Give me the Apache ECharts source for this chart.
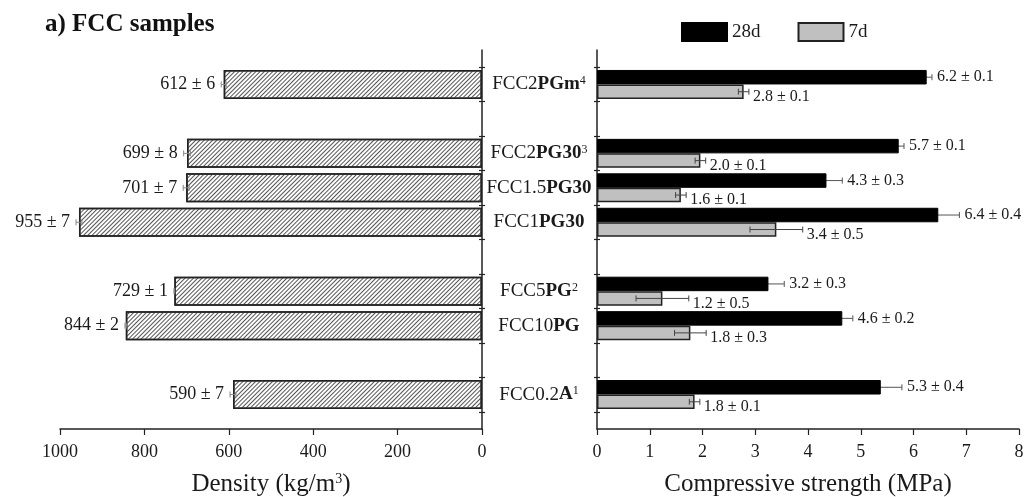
<!DOCTYPE html>
<html>
<head>
<meta charset="utf-8">
<title>FCC samples</title>
<script src="https://cdn.jsdelivr.net/npm/echarts@6/dist/echarts.min.js"></script>
<style>
  html, body { margin: 0; padding: 0; background: #fff; }
  #chart { width: 1024px; height: 497px; }
</style>
</head>
<body>
<div id="chart"></div>
<script>
// rows of the figure, top to bottom (blank rows separate the groups)
var yCategories = ['', 'FCC2PGm', '', 'FCC2PG30', 'FCC1.5PG30', 'FCC1PG30', '', 'FCC5PG', 'FCC10PG', '', 'FCC0.2A', ''];
var samples = ['FCC2PGm', 'FCC2PG30', 'FCC1.5PG30', 'FCC1PG30', 'FCC5PG', 'FCC10PG', 'FCC0.2A'];
var notes = ['4', '3', '', '', '2', '', '1'];

// density (kg/m3)
var density = [612, 699, 701, 955, 729, 844, 590];
var densitySd = [6, 8, 7, 7, 1, 2, 7];

// compressive strength (MPa)
var strength28 = [6.25, 5.72, 4.35, 6.47, 3.25, 4.65, 5.38];
var strength28Sd = [0.1, 0.1, 0.3, 0.4, 0.3, 0.2, 0.4];
var strength28Text = ['6.2 ± 0.1', '5.7 ± 0.1', '4.3 ± 0.3', '6.4 ± 0.4', '3.2 ± 0.3', '4.6 ± 0.2', '5.3 ± 0.4'];
var strength7 = [2.78, 1.96, 1.59, 3.40, 1.24, 1.77, 1.85];
var strength7Sd = [0.1, 0.1, 0.1, 0.5, 0.5, 0.3, 0.1];
var strength7Text = ['2.8 ± 0.1', '2.0 ± 0.1', '1.6 ± 0.1', '3.4 ± 0.5', '1.2 ± 0.5', '1.8 ± 0.3', '1.8 ± 0.1'];

var FONT = 'Liberation Serif';
var INK = '#1a1a1a';
var BAR_W = 14.5;

var tickRows = new Array(yCategories.length - 1).fill('');

function tickAxis(grid, pos, inside) {
    return {
        type: 'category', gridIndex: grid, position: pos, inverse: true,
        data: tickRows, boundaryGap: true,
        axisLine: { show: false },
        axisTick: { show: true, alignWithLabel: true, inside: inside, length: 3, lineStyle: { color: '#222', width: 1.2 } },
        axisLabel: { show: false },
        splitLine: { show: false }
    };
}

function sampleLabel(name) {
    if (!name) return '';
    var m = name.match(/^(FCC[\d.]+)(.+)$/);
    var note = notes[samples.indexOf(name)];
    return '{n|' + m[1] + '}{b|' + m[2] + '}' + (note ? '{s|' + note + '}' : '');
}

// error bar + value text, drawn from axis coordinates
function errorBars(offset, textDy, gap, color, fontSize, texts, leftSide) {
    return function (params, api) {
        var v = api.value(0), row = api.value(1), sd = api.value(2);
        var y = api.coord([v, row])[1] + offset;
        var xa = api.coord([v - sd, row])[0];
        var xb = api.coord([v + sd, row])[0];
        var cap = 3;
        return {
            type: 'group',
            children: [
                { type: 'line', shape: { x1: xa, y1: y, x2: xb, y2: y }, style: { stroke: color, lineWidth: 1 } },
                { type: 'line', shape: { x1: xa, y1: y - cap, x2: xa, y2: y + cap }, style: { stroke: color, lineWidth: 1 } },
                { type: 'line', shape: { x1: xb, y1: y - cap, x2: xb, y2: y + cap }, style: { stroke: color, lineWidth: 1 } },
                {
                    type: 'text',
                    x: leftSide ? xb - gap : xb + gap,
                    y: y + textDy,
                    style: {
                        text: texts[params.dataIndex],
                        fill: INK, font: fontSize + 'px "' + FONT + '"',
                        textAlign: leftSide ? 'right' : 'left', textVerticalAlign: 'middle'
                    }
                }
            ]
        };
    };
}

var densityText = density.map(function (d, i) { return d + ' ± ' + densitySd[i]; });

var option = {
    animation: false,
    backgroundColor: '#fff',
    textStyle: { fontFamily: FONT, color: INK },
    title: {
        text: 'a) FCC samples', left: 40, top: 7,
        textStyle: { fontFamily: FONT, fontWeight: 'bold', fontSize: 25, color: '#111' }
    },
    legend: {
        data: ['28d', '7d'], left: 681, top: 22, padding: 0,
        itemWidth: 45, itemHeight: 18, itemGap: 37, icon: 'rect',
        textStyle: { fontFamily: FONT, fontSize: 19, color: INK }
    },
    grid: [
        { left: 60, right: 542, top: 50, bottom: 68, outerBoundsMode: 'none' },
        { left: 597, right: 5, top: 50, bottom: 68, outerBoundsMode: 'none' }
    ],
    xAxis: [{
        type: 'value', gridIndex: 0, inverse: true, min: 0, max: 1000, interval: 200,
        name: '{a|Density (kg/m}{s|3}{a|)}', nameLocation: 'middle', nameGap: 43,
        nameTextStyle: {
            rich: {
                a: { fontFamily: FONT, fontSize: 25, color: INK },
                s: { fontFamily: FONT, fontSize: 14, lineHeight: 12, color: INK, verticalAlign: 'top' }
            }
        },
        axisLine: { show: true, onZero: false, lineStyle: { color: '#222', width: 1.5 } },
        axisTick: { show: true, length: 6, lineStyle: { color: '#222', width: 1.2 } },
        axisLabel: { fontFamily: FONT, fontSize: 18, color: INK, margin: 14, formatter: function (v) { return String(v); } },
        splitLine: { show: false }
    }, {
        type: 'value', gridIndex: 1, min: 0, max: 8, interval: 1,
        name: 'Compressive strength (MPa)', nameLocation: 'middle', nameGap: 43,
        nameTextStyle: { fontFamily: FONT, fontSize: 25, color: INK },
        axisLine: { show: true, onZero: false, lineStyle: { color: '#222', width: 1.5 } },
        axisTick: { show: true, length: 6, lineStyle: { color: '#222', width: 1.2 } },
        axisLabel: { fontFamily: FONT, fontSize: 18, color: INK, margin: 14 },
        splitLine: { show: false }
    }],
    yAxis: [{
        type: 'category', gridIndex: 0, position: 'right', inverse: true,
        data: yCategories, boundaryGap: false,
        axisLine: { show: true, onZero: false, lineStyle: { color: '#222', width: 1.5 } },
        axisTick: { show: false },
        axisLabel: { show: false },
        splitLine: { show: false }
    },
    tickAxis(0, 'right', false),
    tickAxis(0, 'right', true),
    {
        type: 'category', gridIndex: 1, position: 'left', inverse: true,
        data: yCategories, boundaryGap: false,
        axisLine: { show: true, onZero: false, lineStyle: { color: '#222', width: 1.5 } },
        axisTick: { show: false },
        axisLabel: {
            interval: 0, align: 'center', margin: 58,
            formatter: sampleLabel,
            rich: {
                n: { fontFamily: FONT, fontSize: 19, color: INK },
                b: { fontFamily: FONT, fontSize: 19, fontWeight: 'bold', color: INK },
                s: { fontFamily: FONT, fontSize: 12, lineHeight: 10, color: INK, verticalAlign: 'top' }
            }
        },
        splitLine: { show: false }
    },
    tickAxis(1, 'left', false),
    tickAxis(1, 'left', true)
    ],
    series: [{
        name: 'Density', type: 'bar', xAxisIndex: 0, yAxisIndex: 0,
        barWidth: 29,
        itemStyle: {
            color: '#fff', borderColor: '#222', borderWidth: 1.5,
            decal: {
                symbol: 'rect', symbolSize: 1, color: '#555',
                dashArrayX: [1, 0], dashArrayY: [1, 2], rotation: -Math.PI / 4
            }
        },
        data: samples.map(function (s, i) { return [density[i], s]; })
    }, {
        name: '28d', type: 'bar', xAxisIndex: 1, yAxisIndex: 3,
        barWidth: BAR_W, barGap: '0%',
        itemStyle: { color: '#000', borderColor: '#000', borderWidth: 1 },
        data: samples.map(function (s, i) { return [strength28[i], s]; })
    }, {
        name: '7d', type: 'bar', xAxisIndex: 1, yAxisIndex: 3,
        barWidth: BAR_W, barGap: '0%',
        itemStyle: { color: '#c0c0c0', borderColor: '#222', borderWidth: 1.5 },
        data: samples.map(function (s, i) { return [strength7[i], s]; })
    }, {
        type: 'custom', xAxisIndex: 0, yAxisIndex: 0, z: 5,
        encode: { x: 0, y: 1 },
        renderItem: errorBars(0, 0, 6, '#888', 18, densityText, true),
        data: samples.map(function (s, i) { return [density[i], s, densitySd[i]]; })
    }, {
        // drawn under the black bars, so only the outer half shows
        type: 'custom', xAxisIndex: 1, yAxisIndex: 3, z: 1,
        encode: { x: 0, y: 1 },
        renderItem: errorBars(-BAR_W / 2, 0, 5, '#555', 16, strength28Text, false),
        data: samples.map(function (s, i) { return [strength28[i], s, strength28Sd[i]]; })
    }, {
        type: 'custom', xAxisIndex: 1, yAxisIndex: 3, z: 5,
        encode: { x: 0, y: 1 },
        renderItem: errorBars(BAR_W / 2, 5, 4, '#444', 16, strength7Text, false),
        data: samples.map(function (s, i) { return [strength7[i], s, strength7Sd[i]]; })
    }]
};

var myChart = echarts.init(document.getElementById('chart'));
myChart.setOption(option);
</script>
</body>
</html>
